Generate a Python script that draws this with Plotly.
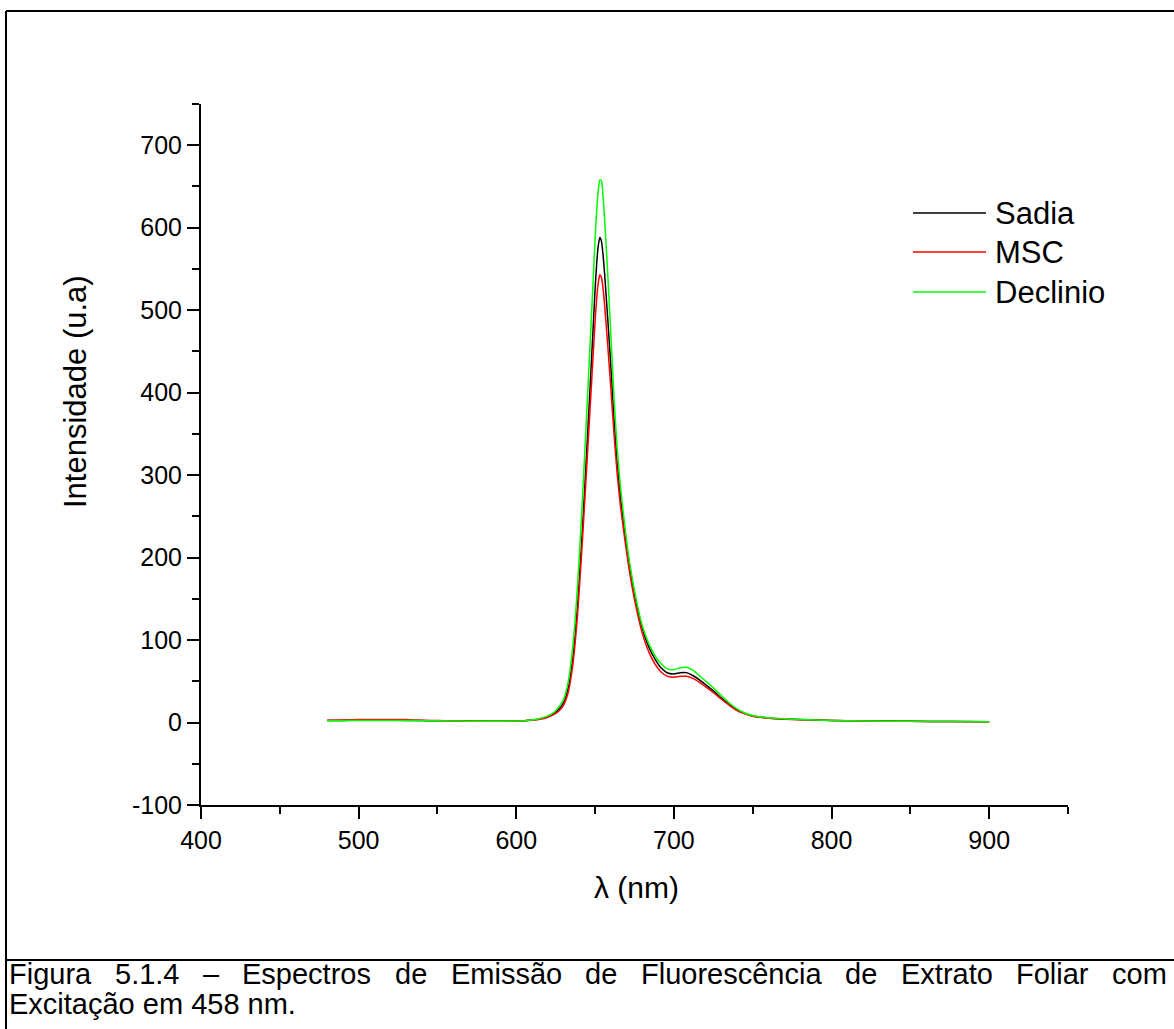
import plotly.graph_objects as go

W, H = 1174, 1029

wavelength = [480, 490, 500, 510, 520, 530, 540, 550, 560, 570, 580, 590, 600, 605, 610, 615,
              620, 624, 627, 630, 633, 636, 639, 642, 645, 648, 650, 651, 652, 653, 654, 655,
              656, 658, 660, 662, 664, 666, 669, 672, 676, 680, 684, 688, 692, 696, 700, 704,
              708, 712, 716, 720, 725, 730, 735, 740, 745, 750, 760, 770, 780, 800, 820, 850,
              875, 900]

sadia = [2.5, 2.6, 2.8, 2.8, 2.7, 2.6, 2.4, 2.2, 2.0, 1.8, 1.6, 1.6, 1.8, 2.2, 3.0, 4.5,
         7, 11, 16, 24, 42, 80, 145, 235, 340, 450, 525, 556, 578, 588, 584, 568,
         545, 490, 432, 368, 315, 275, 228, 188, 146, 114, 92, 77, 66, 60, 59, 60.5,
         60.5, 57, 52, 46, 38.5, 30, 22, 15.5, 11, 8, 5.5, 4.3, 3.6, 2.6, 2.0, 1.5,
         1.2, 1.0]

msc = [2.8, 3.2, 3.6, 3.8, 3.8, 3.6, 2.8, 2.4, 2.1, 1.9, 1.7, 1.6, 1.8, 2.1, 2.8, 4.0,
       6.5, 10, 14, 21, 37, 72, 134, 222, 320, 420, 487, 514, 533, 543, 540, 527,
       507, 458, 405, 350, 302, 264, 220, 181, 140, 108, 86, 71, 61, 56, 55, 56,
       56, 53.5, 49, 43.5, 36.5, 28.5, 21, 14.5, 10.5, 7.5, 5.2, 4.1, 3.4, 2.5, 1.9, 1.4,
       1.1, 0.9]

declinio = [2.2, 2.3, 2.5, 2.5, 2.5, 2.4, 2.3, 2.1, 1.9, 1.7, 1.5, 1.5, 1.8, 2.3, 3.2, 5.0,
            8, 12.5, 19, 28, 50, 95, 170, 272, 388, 505, 586, 620, 645, 658, 657, 640,
            612, 545, 470, 394, 333, 288, 236, 193, 150, 117, 96, 81, 71, 65, 64, 66.5,
            67, 63.5, 57, 50.5, 42, 33, 24, 16.5, 11.5, 8.5, 5.7, 4.5, 3.7, 2.6, 2.0, 1.4,
            1.1, 1.0]

series_names = ["Sadia", "MSC", "Declinio"]
series_colors = ["#000000", "#ff0000", "#00ff00"]
series_values = [sadia, msc, declinio]

x_ticks = [400, 500, 600, 700, 800, 900]
x_ticktext = ["400", "500", "600", "700", "800", "900"]
y_ticks = [-100, 0, 100, 200, 300, 400, 500, 600, 700]
y_ticktext = ["-100", "0", "100", "200", "300", "400", "500", "600", "700"]

caption_words = ["Figura", "5.1.4", "\u2013", "Espectros", "de", "Emiss\u00e3o", "de",
                 "Fluoresc\u00eancia", "de", "Extrato", "Foliar", "com"]
caption_word_em = [2.834, 2.224, 0.556, 4.446, 1.112, 3.834, 1.112, 6.224, 1.112, 3.168, 2.5, 1.889]
caption_line2 = "Excita\u00e7\u00e3o em 458 nm."

FONT = "Liberation Sans, Arial, sans-serif"

fig = go.Figure()
for name, color, vals in zip(series_names, series_colors, series_values):
    fig.add_trace(go.Scatter(x=wavelength, y=vals, mode="lines", name=name,
                             line=dict(color=color, width=1.5, shape="spline", smoothing=0.5),
                             showlegend=False))

def px(xp):
    return xp / W

def py(yp):
    return 1 - yp / H

axis_common = dict(ticks="outside", ticklen=12, tickwidth=2, tickcolor="black",
                   showline=True, linewidth=2, linecolor="black", showgrid=False,
                   zeroline=False, automargin=False, tickfont=dict(size=25),
                   minor=dict(dtick=50, tick0=0, ticks="outside", ticklen=7,
                              tickwidth=2, tickcolor="black"))

fig.update_layout(
    width=W, height=H,
    margin=dict(l=0, r=0, t=0, b=0, autoexpand=False),
    paper_bgcolor="white", plot_bgcolor="white",
    font=dict(family=FONT, size=25, color="black"),
    xaxis=dict(range=[400, 950], domain=[px(201), px(1068)], tickvals=x_ticks,
               ticktext=x_ticktext, **axis_common),
    yaxis=dict(range=[-100, 750], domain=[py(805), py(104)], tickvals=y_ticks,
               ticktext=y_ticktext, **axis_common),
)

shapes = []
# frame of the figure cell
shapes.append(dict(type="line", xref="paper", yref="paper", x0=px(6), x1=px(1180), y0=py(11), y1=py(11),
                   line=dict(color="black", width=2)))
shapes.append(dict(type="line", xref="paper", yref="paper", x0=px(6), x1=px(6), y0=py(11), y1=py(1035),
                   line=dict(color="black", width=2)))
shapes.append(dict(type="line", xref="paper", yref="paper", x0=px(6), x1=px(1180), y0=py(960), y1=py(960),
                   line=dict(color="black", width=2)))

annotations = []
legend_y = [213, 252, 292]
for name, color, ly in zip(series_names, series_colors, legend_y):
    shapes.append(dict(type="line", xref="paper", yref="paper", x0=px(913), x1=px(986), y0=py(ly), y1=py(ly),
                       line=dict(color=color, width=1.5)))
    annotations.append(dict(xref="paper", yref="paper", x=px(993), y=py(ly), text=name, showarrow=False,
                            xanchor="left", yanchor="middle", font=dict(size=31)))

annotations.append(dict(xref="paper", yref="paper", x=px(75), y=py(392), text="Intensidade (u.a)",
                        textangle=-90, showarrow=False, xanchor="center", yanchor="middle",
                        font=dict(size=31)))
annotations.append(dict(xref="paper", yref="paper", x=px(636), y=py(887), text="\u03bb (nm)",
                        showarrow=False, xanchor="center", yanchor="middle", font=dict(size=30)))

cap_font = 29
left, right = 8, 1166
total_words = sum(caption_word_em) * cap_font
gap = (right - left - total_words) / (len(caption_words) - 1)
xpos = left
for word, em in zip(caption_words, caption_word_em):
    annotations.append(dict(xref="paper", yref="paper", x=px(xpos), y=py(974), text=word,
                            showarrow=False, xanchor="left", yanchor="middle",
                            font=dict(size=cap_font), borderpad=0))
    xpos += em * cap_font + gap
annotations.append(dict(xref="paper", yref="paper", x=px(left), y=py(1004), text=caption_line2,
                        showarrow=False, xanchor="left", yanchor="middle",
                        font=dict(size=cap_font), borderpad=0))

fig.update_layout(shapes=shapes, annotations=annotations)
fig.write_html("out.html")
